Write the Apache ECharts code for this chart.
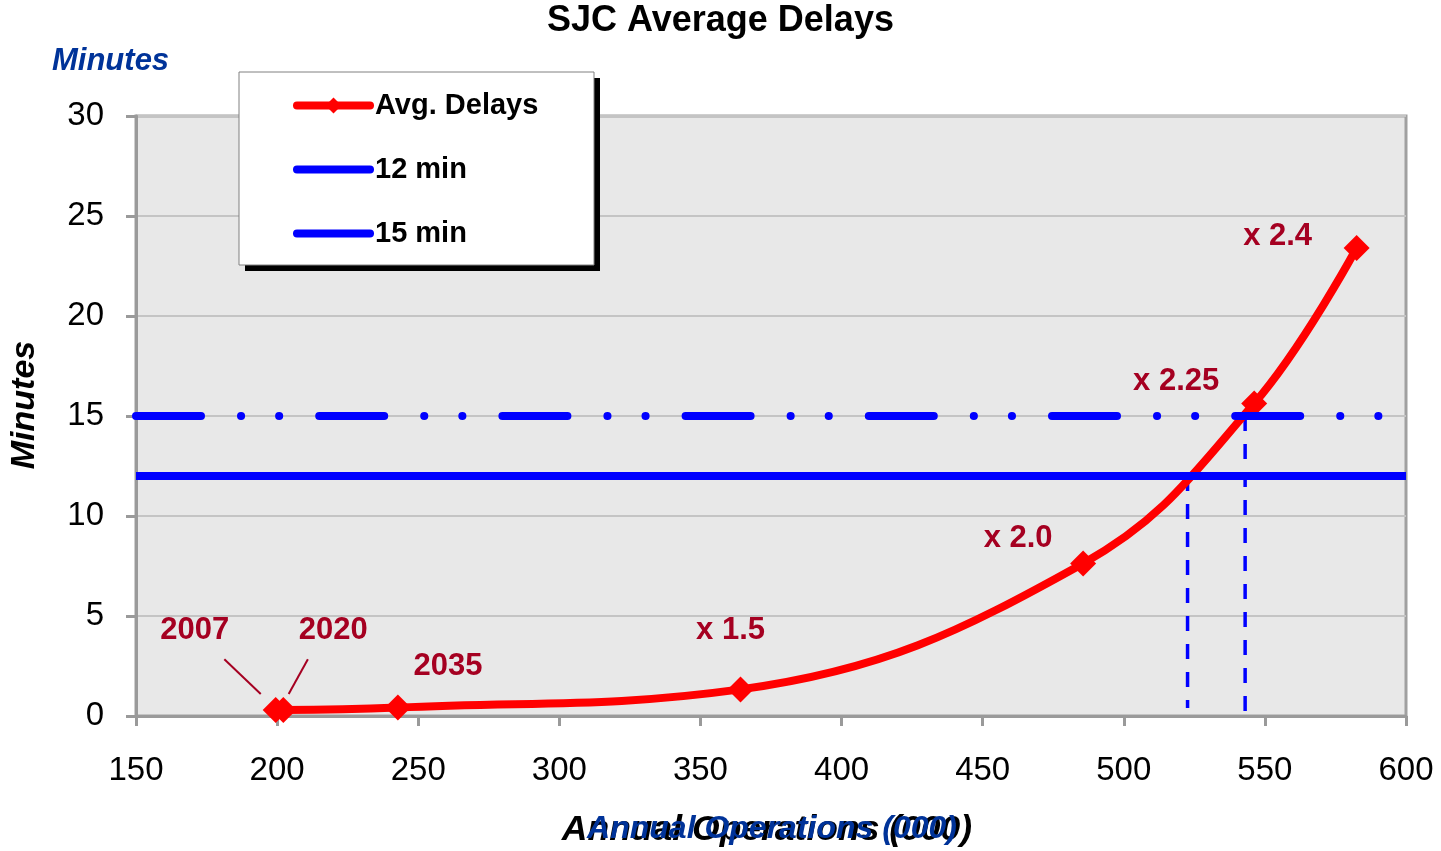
<!DOCTYPE html>
<html><head><meta charset="utf-8">
<script src="https://cdn.jsdelivr.net/npm/echarts@6/dist/echarts.min.js"></script>
<style>html,body{margin:0;padding:0;background:#fff}#chart{width:1441px;height:851px}</style>
</head><body><div id="chart"></div>
<script>
// ---- data ----
const opsX = [199.5, 202.2, 242.8, 364.2, 485.6, 546.2, 582.5];
const delays = [0.3, 0.3, 0.42, 1.33, 7.63, 15.63, 23.4];
const pointLabels = ['2007', '2020', '2035', 'x 1.5', 'x 2.0', 'x 2.25', 'x 2.4'];
const line12 = [[150, 12], [600, 12]];
const line15 = [[150, 15], [590.5, 15]];
const drop12 = [[522.6, 12], [522.6, 0.4]];
const drop15 = [[543, 15], [543, 0.2]];
const leader2007 = [[181.3, 2.84], [194.2, 1.1]];
const leader2020 = [[210.9, 2.84], [204.1, 1.1]];
const xRange = [150, 600, 50];
const yRange = [0, 30, 5];
// ---- layout (not data) ----
const labelOffsets = [[-81, -80], [50, -80], [50, -41], [-10, -59], [-65, -25], [-78, -22], [-79, -12]];

const FF = '"Liberation Sans", Arial, sans-serif';
const DARKRED = '#A50021';
const BLUE = '#0000FF';
const NAVY = '#003399';

const chart = echarts.init(document.getElementById('chart'), null, {renderer: 'canvas'});
chart.setOption({
  animation: false,
  backgroundColor: '#fff',
  title: {
    text: 'SJC Average Delays', left: 'center', top: 3, padding: 0,
    textStyle: {fontFamily: FF, fontSize: 36, fontWeight: 'bold', color: '#000'}
  },
  grid: {
    left: 136, right: 35, top: 116, bottom: 135,
    show: true, backgroundColor: '#E8E8E8', borderColor: '#A0A0A0', borderWidth: 3
  },
  xAxis: {
    type: 'value', min: xRange[0], max: xRange[1], interval: xRange[2],
    axisLine: {show: true, onZero: false, lineStyle: {color: '#9A9A9A', width: 3}},
    axisTick: {show: true, length: 10, lineStyle: {color: '#9A9A9A', width: 3}},
    splitLine: {show: false},
    axisLabel: {fontFamily: FF, fontSize: 33, color: '#000', margin: 38}
  },
  yAxis: {
    type: 'value', min: yRange[0], max: yRange[1], interval: yRange[2],
    axisLine: {show: true, lineStyle: {color: '#9A9A9A', width: 3}},
    axisTick: {show: true, length: 10, lineStyle: {color: '#9A9A9A', width: 3}},
    splitLine: {show: true, lineStyle: {color: '#C4C4C4', width: 2}},
    axisLabel: {fontFamily: FF, fontSize: 33, color: '#000', margin: 32, padding: [4, 0, 0, 0]}
  },
  legend: {
    orient: 'vertical', left: 293, top: 91, padding: 0,
    itemGap: 35, itemWidth: 73, itemHeight: 20,
    textStyle: {fontFamily: FF, fontSize: 29, fontWeight: 'bold', color: '#000'},
    lineStyle: {width: 8, cap: 'round'},
    data: [
      {name: 'Avg. Delays'},
      {name: '12 min', itemStyle: {opacity: 0}},
      {name: '15 min', itemStyle: {opacity: 0}, lineStyle: {type: 'solid'}}
    ],
    z: 10
  },
  graphic: [
    {type: 'rect', z: 8, shape: {x: 245, y: 78, width: 355, height: 193}, style: {fill: '#000'}},
    {type: 'rect', z: 9, shape: {x: 239, y: 72, width: 355, height: 193}, style: {fill: '#fff', stroke: '#808080', lineWidth: 1}},
    {type: 'text', z: 10, x: 52, y: 61, style: {text: 'Minutes', textVerticalAlign: 'middle', font: 'italic bold 31px ' + FF, fill: NAVY}},
    {type: 'text', z: 10, x: 25, y: 405, rotation: Math.PI / 2, style: {text: 'Minutes', textAlign: 'center', textVerticalAlign: 'middle', font: 'italic bold 34px ' + FF, fill: '#000'}},
    {type: 'text', z: 10, x: 767, y: 830, style: {text: 'Annual Operations (000)', textAlign: 'center', textVerticalAlign: 'middle', font: 'italic bold 35.5px ' + FF, fill: '#000'}},
    {type: 'text', z: 11, x: 772, y: 829, style: {text: 'Annual Operations (000)', textAlign: 'center', textVerticalAlign: 'middle', font: 'italic bold 32px ' + FF, fill: NAVY}}
  ],
  series: [
    {
      name: 'Avg. Delays', type: 'line', z: 3,
      smooth: 0.4,
      symbol: 'diamond', symbolSize: 26,
      lineStyle: {color: '#FF0000', width: 8},
      itemStyle: {color: '#FF0000'},
      label: {show: true, position: 'inside', fontFamily: FF, fontSize: 31, fontWeight: 'bold', color: DARKRED},
      data: opsX.map((x, i) => ({
        value: [x, delays[i]],
        label: {formatter: pointLabels[i], offset: labelOffsets[i]}
      }))
    },
    {
      name: '12 min', type: 'line', z: 4, symbol: 'none', silent: true,
      lineStyle: {color: BLUE, width: 8},
      itemStyle: {color: BLUE},
      data: line12
    },
    {
      name: '15 min', type: 'line', z: 4, symbol: 'none', silent: true,
      lineStyle: {color: BLUE, width: 8, type: [65, 40, 0.1, 38, 0.1, 40], cap: 'round'},
      itemStyle: {color: BLUE},
      data: line15
    },
    {
      name: 'drop12', type: 'line', z: 2, symbol: 'none', silent: true,
      lineStyle: {color: BLUE, width: 3.5, type: [15, 13]},
      data: drop12
    },
    {
      name: 'drop15', type: 'line', z: 2, symbol: 'none', silent: true,
      lineStyle: {color: BLUE, width: 3.5, type: [15, 13]},
      data: drop15
    },
    {
      name: 'lead2007', type: 'line', z: 2, symbol: 'none', silent: true,
      lineStyle: {color: DARKRED, width: 2},
      data: leader2007
    },
    {
      name: 'lead2020', type: 'line', z: 2, symbol: 'none', silent: true,
      lineStyle: {color: DARKRED, width: 2},
      data: leader2020
    }
  ]
});
</script>
</body></html>
